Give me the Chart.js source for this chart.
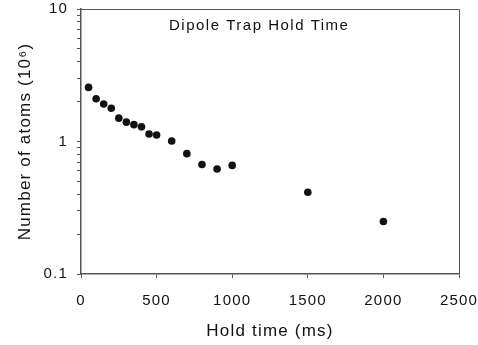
<!DOCTYPE html>
<html>
<head>
<meta charset="utf-8">
<script src="https://cdn.jsdelivr.net/npm/chart.js@4"></script>
<style>
  html, body { margin: 0; padding: 0; background: #fff; }
  #wrap { width: 478px; height: 345px; }
</style>
</head>
<body>
<div id="wrap"><canvas id="myChart" width="478" height="345"></canvas></div>
<script>
// hold time (ms) and atom number (10^6)
const holdTimes = [50, 100, 150, 200, 250, 300, 350, 400, 450, 500, 600, 700, 800, 900, 1000, 1500, 2000];
const atomCounts = [2.56, 2.10, 1.92, 1.78, 1.50, 1.40, 1.34, 1.29, 1.14, 1.12, 1.01, 0.81, 0.67, 0.62, 0.66, 0.414, 0.249];
const xTicks = [0, 500, 1000, 1500, 2000, 2500];
const yTicks = [0.1, 0.2, 0.3, 0.4, 0.5, 0.6, 0.7, 0.8, 0.9, 1, 2, 3, 4, 5, 6, 7, 8, 9, 10];
const yLabels = [0.1, 1, 10];

const axisColor = "#555";
const fontFamily = "'Liberation Sans', Arial, sans-serif";

// frame around the plot + letter spacing + in-plot title
const framePlugin = {
  id: "frame",
  beforeDraw(chart) {
    chart.ctx.letterSpacing = "1.2px";
  },
  afterDraw(chart) {
    const { ctx, chartArea: a } = chart;
    ctx.save();
    ctx.strokeStyle = axisColor;
    ctx.lineWidth = 1;
    ctx.beginPath();
    ctx.moveTo(a.left, a.top + 0.5);
    ctx.lineTo(a.right + 0.5, a.top + 0.5);
    ctx.lineTo(a.right + 0.5, a.bottom);
    ctx.stroke();
    ctx.fillStyle = "#111";
    ctx.font = "15px " + fontFamily;
    ctx.letterSpacing = "1.5px";
    ctx.textBaseline = "middle";
    ctx.fillText("Dipole Trap Hold Time", 169, 26);
    ctx.restore();
  },
};

const ctx = document.getElementById("myChart").getContext("2d");
new Chart(ctx, {
  type: "scatter",
  data: {
    datasets: [
      {
        data: holdTimes.map((t, i) => ({ x: t, y: atomCounts[i] })),
        backgroundColor: "#111",
        borderWidth: 0,
        pointRadius: 3.8,
      },
    ],
  },
  options: {
    responsive: false,
    animation: false,
    layout: { padding: { top: 9, right: 19, left: 0, bottom: 0 } },
    plugins: {
      legend: { display: false },
      tooltip: { enabled: false },
    },
    scales: {
      x: {
        type: "linear",
        min: 0,
        max: 2500,
        afterFit: (s) => {
          s.height = 71;
          s.paddingLeft = 0;
          s.paddingRight = 0;
        },
        afterBuildTicks: (s) => { s.ticks = xTicks.map((v) => ({ value: v })); },
        grid: { drawOnChartArea: false, tickLength: 4, tickColor: axisColor },
        border: { color: axisColor, width: 1.5 },
        ticks: {
          color: "#111",
          padding: 14,
          maxRotation: 0,
          font: { family: fontFamily, size: 15 },
          callback: (v) => String(v),
        },
        title: {
          display: true,
          text: "Hold time (ms)",
          color: "#111",
          padding: { bottom: 3 },
          font: { family: fontFamily, size: 17 },
        },
      },
      y: {
        type: "logarithmic",
        min: 0.1,
        max: 10,
        afterFit: (s) => {
          s.width = 81;
          s.paddingTop = 0;
          s.paddingBottom = 0;
        },
        afterBuildTicks: (s) => { s.ticks = yTicks.map((v) => ({ value: v })); },
        grid: { drawOnChartArea: false, tickLength: 4, tickColor: axisColor },
        border: { color: axisColor, width: 1.5 },
        ticks: {
          autoSkip: false,
          color: "#111",
          padding: 9,
          font: { family: fontFamily, size: 15 },
          callback: (v) => (yLabels.includes(v) ? String(v) : ""),
        },
        title: {
          display: true,
          text: "Number of atoms (10\u2076)",
          color: "#111",
          padding: { top: 15 },
          font: { family: fontFamily, size: 17 },
        },
      },
    },
  },
  plugins: [framePlugin],
});
</script>
</body>
</html>
